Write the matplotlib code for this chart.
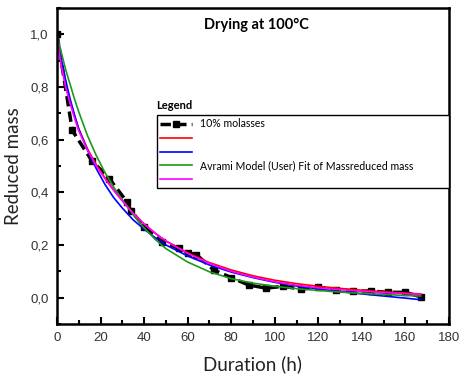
import matplotlib.pyplot as plt
from matplotlib.ticker import MultipleLocator, FuncFormatter

# measured data (10% molasses)
t_data = [0, 7, 16, 24, 32, 34, 40, 48, 56, 60, 64, 72, 80, 88, 96, 104, 112, 120, 128, 136, 144, 152, 160, 167]
m_data = [1.0, 0.635, 0.52, 0.452, 0.365, 0.33, 0.27, 0.213, 0.187, 0.17, 0.163, 0.105, 0.076, 0.048,
          0.036, 0.043, 0.032, 0.04, 0.03, 0.025, 0.025, 0.02, 0.02, 0.003]

# fitted curves
t_fit = [0, 1, 2, 4, 6, 8, 10, 14, 18, 22, 26, 30, 35, 40, 45, 50, 60, 70, 80, 90, 100, 110, 120, 130, 140,
         150, 160, 167]
fit_red = [1.0, 0.935, 0.885, 0.805, 0.745, 0.69, 0.64, 0.565, 0.505, 0.455, 0.41, 0.37, 0.32, 0.28, 0.245,
           0.215, 0.17, 0.133, 0.105, 0.083, 0.066, 0.053, 0.043, 0.035, 0.028, 0.022, 0.017, 0.014]
fit_blue = [1.0, 0.95, 0.905, 0.825, 0.755, 0.695, 0.64, 0.56, 0.49, 0.43, 0.38, 0.34, 0.295, 0.26, 0.228,
            0.2, 0.158, 0.124, 0.097, 0.076, 0.058, 0.044, 0.033, 0.023, 0.014, 0.006, -0.002, -0.008]
fit_green = [1.0, 0.965, 0.93, 0.865, 0.81, 0.755, 0.705, 0.615, 0.54, 0.475, 0.42, 0.37, 0.315, 0.265, 0.222,
             0.186, 0.135, 0.098, 0.072, 0.055, 0.043, 0.034, 0.027, 0.021, 0.016, 0.012, 0.008, 0.006]
fit_magenta = [1.0, 0.93, 0.878, 0.798, 0.738, 0.683, 0.633, 0.56, 0.5, 0.452, 0.407, 0.367, 0.32, 0.28,
               0.245, 0.215, 0.168, 0.13, 0.1, 0.078, 0.06, 0.047, 0.037, 0.03, 0.024, 0.019, 0.015, 0.012]

labels = ["10% molasses", "", "", "Avrami Model (User) Fit of Massreduced mass", ""]

fig = plt.figure(figsize=(4.6, 3.82), dpi=100)
ax = fig.add_axes([0.124, 0.152, 0.852, 0.827])

h_data, = ax.plot(t_data, m_data, color='black', linestyle=(0, (3, 1.5)), linewidth=2.5,
                  marker='s', markersize=5, label=labels[0])
h_red, = ax.plot(t_fit, fit_red, color='red', linewidth=1.2, label=labels[1])
h_blue, = ax.plot(t_fit, fit_blue, color='blue', linewidth=1.2, label=labels[2])
h_green, = ax.plot(t_fit, fit_green, color='#1a9a1a', linewidth=1.2, label=labels[3])
h_mag, = ax.plot(t_fit, fit_magenta, color='magenta', linewidth=1.2, label=labels[4])

ax.set_xlim(0, 180)
ax.set_ylim(-0.1, 1.1)
ax.xaxis.set_major_locator(MultipleLocator(20))
ax.xaxis.set_minor_locator(MultipleLocator(10))
ax.yaxis.set_major_locator(MultipleLocator(0.2))
ax.yaxis.set_minor_locator(MultipleLocator(0.1))
ax.yaxis.set_major_formatter(FuncFormatter(lambda v, p: ("%.1f" % v).replace('.', ',')))
ax.tick_params(which='both', direction='in', top=False, right=False, width=1.5,
               labelsize=9.5, labelcolor='#333333', pad=6)
ax.tick_params(which='major', length=5)
ax.tick_params(which='minor', length=3)
for lab in ax.get_xticklabels() + ax.get_yticklabels():
    lab.set_family('Liberation Sans')
for s in ax.spines.values():
    s.set_linewidth(1.8)

ax.set_xlabel('Duration (h)', fontsize=13.5, family='Lato', color='#222222', labelpad=8)
ax.set_ylabel('Reduced mass', fontsize=13.5, family='Lato', color='#222222', labelpad=6)

ax.text(0.51, 0.945, 'Drying at 100°C', transform=ax.transAxes, ha='center', va='center',
        fontsize=10.5, fontweight='bold', family='Lato')

leg = ax.legend(handles=[h_data, h_red, h_blue, h_green, h_mag], labels=labels,
                loc='upper left', bbox_to_anchor=(0.255, 0.661, 0.745, 0.0), mode='expand',
                fancybox=False, edgecolor='black', framealpha=1,
                prop={'family': 'Lato', 'size': 7.6}, handlelength=3.0, labelspacing=0.28,
                borderaxespad=0, borderpad=0.3)
leg.get_frame().set_linewidth(1.0)
ax.text(0.252, 0.675, 'Legend', transform=ax.transAxes, ha='left', va='bottom',
        fontsize=8, fontweight='bold', family='Lato')

fig.savefig('out.png', dpi=100)
